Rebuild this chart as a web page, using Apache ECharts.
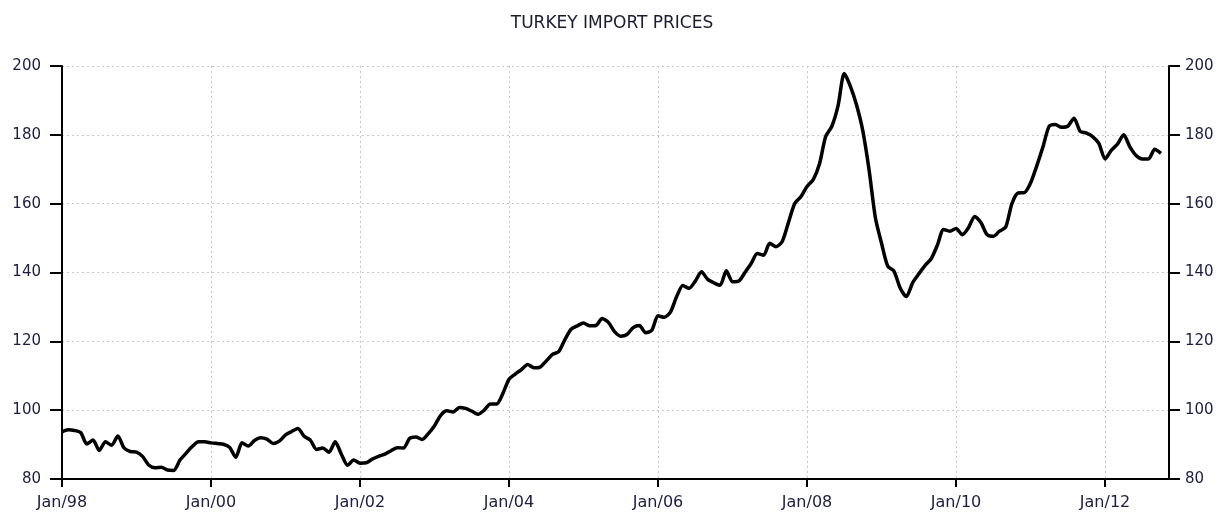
<!DOCTYPE html>
<html>
<head>
<meta charset="utf-8">
<title>Turkey Import Prices</title>
<script src="https://cdn.jsdelivr.net/npm/echarts@6/dist/echarts.min.js"></script>
<style>
    html, body { margin: 0; padding: 0; background: #fff; }
    #chart1 { width: 1224px; height: 520px; }
</style>
</head>
<body>
<div id="chart1"></div>
<script>
// monthly index, Jan 1998 .. Oct 2012
var tickLabels = ['Jan/98', 'Jan/00', 'Jan/02', 'Jan/04', 'Jan/06', 'Jan/08', 'Jan/10', 'Jan/12'];
var yTicks = [80, 100, 120, 140, 160, 180, 200];

var prices = [
    // 1998
    93.7, 94.3, 94.1, 93.5, 90.2, 91.3, 88.3, 90.8, 89.8, 92.5, 89.0, 88.0,
    // 1999
    87.8, 86.5, 84.0, 83.3, 83.4, 82.6, 82.5, 85.5, 87.5, 89.5, 90.8, 90.8,
    // 2000
    90.5, 90.3, 90.1, 89.2, 86.3, 90.5, 89.6, 91.2, 92.0, 91.6, 90.3, 91.0,
    // 2001
    92.8, 93.8, 94.7, 92.4, 91.3, 88.6, 89.0, 87.8, 90.8, 87.2, 84.0, 85.5,
    // 2002
    84.6, 84.7, 85.8, 86.6, 87.2, 88.2, 89.1, 89.0, 91.8, 92.2, 91.5, 93.2,
    // 2003
    95.5, 98.5, 99.8, 99.5, 100.8, 100.5, 99.7, 98.8, 100.0, 101.8, 101.8, 104.8,
    // 2004
    109.0, 110.5, 111.8, 113.3, 112.3, 112.5, 114.3, 116.2, 117.0, 120.5, 123.5, 124.5,
    // 2005
    125.3, 124.5, 124.6, 126.6, 125.5, 122.8, 121.5, 122.0, 124.0, 124.6, 122.5, 123.2,
    // 2006
    127.4, 127.0, 128.5, 133.0, 136.2, 135.4, 137.5, 140.2, 138.0, 137.0, 136.3, 140.5,
    // 2007
    137.3, 137.5, 140.0, 142.6, 145.5, 145.0, 148.5, 147.5, 149.0, 154.5, 160.0, 162.0,
    // 2008
    165.0, 167.0, 171.5, 179.5, 182.5, 188.5, 197.8, 194.0, 188.5, 181.0, 169.7, 156.0,
    // 2009
    148.5, 141.8, 140.4, 135.5, 133.0, 137.0, 139.6, 142.0, 144.0, 148.0, 152.5, 152.0,
    // 2010
    152.8, 151.0, 153.0, 156.3, 154.5, 151.0, 150.5, 152.0, 153.2, 160.0, 163.1, 163.2,
    // 2011
    166.0, 171.0, 176.5, 182.5, 183.0, 182.2, 182.5, 184.8, 181.0, 180.5, 179.5, 177.5,
    // 2012
    173.0, 175.5, 177.3, 180.0, 176.5, 174.0, 173.0, 173.0, 175.8, 174.6
];

var chart1 = echarts.init(document.getElementById('chart1'));
var labelColor = '#1c1c44';
var gridLine = { color: '#c8c8c8', type: [2, 3], width: 1 };

function drawChart() {
    var seriesData = prices.map(function (v, i) {
        return [i, v];
    });
    var option = {
        backgroundColor: '#fff',
        animation: false,
        title: {
            text: 'TURKEY IMPORT PRICES',
            left: 'center',
            top: 10,
            textStyle: {
                fontFamily: 'DejaVu Sans',
                fontSize: 17,
                fontWeight: 'normal',
                color: '#1a1a33'
            }
        },
        grid: {
            left: 62,
            right: 55,
            top: 66,
            bottom: 41
        },
        xAxis: {
            type: 'value',
            min: 0,
            max: 178.3,
            interval: 24,
            axisLine: { show: true, onZero: false, lineStyle: { color: '#000', width: 2 } },
            axisTick: { show: true, length: 8, lineStyle: { color: '#000', width: 2 } },
            axisLabel: {
                margin: 16,
                fontFamily: 'DejaVu Sans',
                fontSize: 16,
                color: labelColor,
                showMaxLabel: false,
                formatter: function (val) {
                    return tickLabels[Math.round(val / 24)] || '';
                }
            },
            splitLine: { show: true, lineStyle: gridLine }
        },
        yAxis: [{
            type: 'value',
            min: yTicks[0],
            max: yTicks[yTicks.length - 1],
            interval: 20,
            position: 'left',
            axisLine: { show: true, lineStyle: { color: '#000', width: 2 } },
            axisTick: { show: true, length: 12, lineStyle: { color: '#000', width: 2 } },
            axisLabel: {
                margin: 21,
                fontFamily: 'DejaVu Sans',
                fontSize: 15,
                color: labelColor
            },
            splitLine: { show: true, lineStyle: gridLine }
        }, {
            type: 'value',
            min: yTicks[0],
            max: yTicks[yTicks.length - 1],
            interval: 20,
            position: 'right',
            axisLine: { show: true, lineStyle: { color: '#000', width: 2 } },
            axisTick: { show: true, length: 11, lineStyle: { color: '#000', width: 2 } },
            axisLabel: {
                margin: 16,
                fontFamily: 'DejaVu Sans',
                fontSize: 15,
                color: labelColor
            },
            splitLine: { show: false }
        }],
        series: [{
            name: 'Import prices',
            type: 'line',
            data: seriesData,
            showSymbol: false,
            smooth: 0.25,
            lineStyle: { color: '#000', width: 3.5 }
        }]
    };
    chart1.setOption(option, true);
}

drawChart();
</script>
</body>
</html>
